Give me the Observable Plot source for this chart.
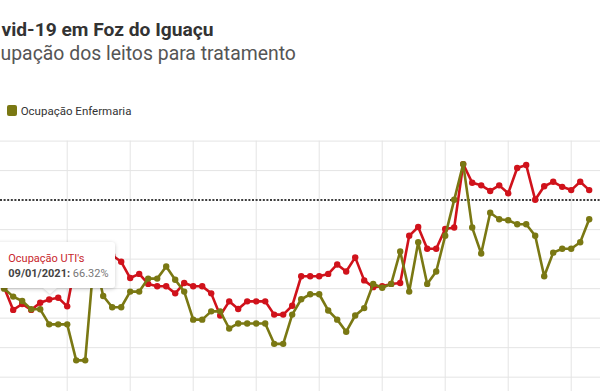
<!DOCTYPE html>
<html>
<head>
<meta charset="utf-8">
<script src="https://cdn.jsdelivr.net/npm/d3@7"></script>
<script src="https://cdn.jsdelivr.net/npm/@observablehq/plot@0.6"></script>
<style>
html,body{margin:0;padding:0;overflow:hidden;background:#fff;width:600px;height:391px;}
#wrap{position:relative;width:600px;height:391px;overflow:hidden;font-family:Roboto,"Noto Sans",sans-serif;}
#title{position:absolute;left:1.5px;top:19.9px;font-size:19.2px;line-height:19px;font-weight:700;color:#333;white-space:nowrap;}
#subtitle{position:absolute;left:0.5px;top:44px;font-size:19.4px;line-height:19px;font-weight:400;color:#555;white-space:nowrap;}
#legend{position:absolute;left:7px;top:104.5px;height:12px;display:flex;align-items:center;font-size:11.5px;color:#333;white-space:nowrap;}
#legend .sw{width:10px;height:11px;border-radius:2px;margin-right:3.7px;}
#chart{position:absolute;left:0;top:130px;}
#tip{position:absolute;left:-10px;top:242px;width:125px;height:46px;background:#fff;border-radius:3px;box-shadow:0 1px 4px rgba(0,0,0,.2);box-sizing:border-box;padding:9px 0 0 18.3px;font-size:11px;line-height:15px;white-space:nowrap;}
#tip .n{color:#c8262c;}
#tip .d{color:#444;font-weight:700;}
#tip .v{color:#777;}
#ptr{position:absolute;left:43px;top:288px;width:0;height:0;border-left:7px solid transparent;border-right:7px solid transparent;border-top:6px solid #fff;filter:drop-shadow(0 1px 1px rgba(0,0,0,.15));}
</style>
</head>
<body>
<div id="wrap">
  <div id="title"></div>
  <div id="subtitle"></div>
  <div id="legend"></div>
  <div id="chart"></div>
  <div id="ptr"></div>
  <div id="tip"></div>
</div>
<script>
// ---- data ----
const titleText = "vid-19 em Foz do Iguaçu";
const subtitleText = "upação dos leitos para tratamento";
const startDate = "2021-01-04";
const seriesNames = ["Ocupação UTI's", "Ocupação Enfermaria"];
const seriesColors = ["#d0121b", "#7a7813"];
const utiValues = [70.3, 62.8, 64.8, 62.8, 65.2, 66.32, 66.9, 64.0, 80, 83, 83, 82,
  81.3, 79.1, 73.6, 75.0, 71.6, 70.8, 70.8, 68.4, 71.9, 70.8, 70.8, 68.4,
  60.9, 65.7, 63.1, 65.7, 65.7, 65.7, 61.2, 61.2, 64.2, 74.2, 74.2, 74.2,
  75.0, 78.2, 75.8, 80.6, 72.8, 70.5, 70.8, 71.6, 71.9, 87.9, 90.9, 83.5,
  83.5, 90.2, 90.7, 112.2, 105.9, 105.0, 103.1, 105.0, 102.3, 110.9, 111.9, 100.1,
  104.7, 106.2, 104.5, 103.4, 106.2, 103.4];
const enfValues = [70.0, 67.3, 65.8, 63.0, 63.0, 57.9, 57.9, 57.9, 45.7, 45.7,
  81, 67.5, 63.7, 63.7, 69.0, 69.0, 73.4, 73.4, 77.5, 73.0,
  69.0, 59.5, 59.5, 62.3, 62.3, 56.5, 58.2, 58.2, 58.2, 58.2,
  51.3, 51.3, 61.2, 66.4, 68.1, 68.1, 62.6, 59.5, 55.4, 60.9,
  63.4, 71.6, 70.3, 71.6, 82.6, 69.0, 85.7, 71.6, 75.8, 87.9,
  100.1, 112.2, 90.7, 81.9, 95.7, 93.5, 93.2, 91.8, 91.8, 87.9,
  74.2, 82.2, 83.5, 83.5, 85.7, 93.5];
const weekTicks = ["2021-01-11", "2021-01-18", "2021-01-25", "2021-02-01", "2021-02-08",
  "2021-02-15", "2021-02-22", "2021-03-01", "2021-03-08"];
const yGridValues = [40, 50, 60, 70, 80, 90, 110, 120];
const limitValue = 100;
const tooltipDate = "09/01/2021";
const tooltipValue = "66.32%";

// ---- build ----
document.getElementById("title").textContent = titleText;
document.getElementById("subtitle").textContent = subtitleText;

const parse = d3.utcParse("%Y-%m-%d");
const d0 = parse(startDate);
const rows = [];
[utiValues, enfValues].forEach((vals, s) => {
  vals.forEach((v, i) => rows.push({date: d3.utcDay.offset(d0, i), value: v, serie: seriesNames[s]}));
});
const DAY = 864e5, pxPerDay = 9, firstX = 3.7, W = 600;
const xDomain = [new Date(+d0 - firstX / pxPerDay * DAY), new Date(+d0 + (W - firstX) / pxPerDay * DAY)];

const marks = [
  Plot.ruleX(weekTicks.map(parse), {stroke: "#e4e4e4", strokeWidth: 1}),
  Plot.ruleY(yGridValues, {stroke: "#e4e4e4", strokeWidth: 1}),
  Plot.ruleY([limitValue], {stroke: "#3d3d3d", strokeWidth: 2, strokeDasharray: "2,1.6"})
];
seriesNames.forEach((name, s) => {
  const d = rows.filter(r => r.serie === name);
  marks.push(Plot.line(d, {x: "date", y: "value", stroke: seriesColors[s], strokeWidth: 2.6}));
  marks.push(Plot.dot(d, {x: "date", y: "value", r: 3.2, fill: seriesColors[s]}));
});

const chart = Plot.plot({
  width: 600,
  height: 261,
  marginTop: 10.6,
  marginBottom: 0,
  marginLeft: 0,
  marginRight: 0,
  style: {background: "transparent", overflow: "hidden"},
  x: {type: "utc", domain: xDomain, axis: null},
  y: {domain: [35.144, 120], axis: null},
  marks
});
document.getElementById("chart").appendChild(chart);

// legend
const lg = document.getElementById("legend");
lg.innerHTML = `<div class="sw" style="background:${seriesColors[1]}"></div><span>${seriesNames[1]}</span>`;
// tooltip
document.getElementById("tip").innerHTML =
  `<div class="n">${seriesNames[0]}</div><div><span class="d">${tooltipDate}:</span> <span class="v">${tooltipValue}</span></div>`;
</script>
</body>
</html>
